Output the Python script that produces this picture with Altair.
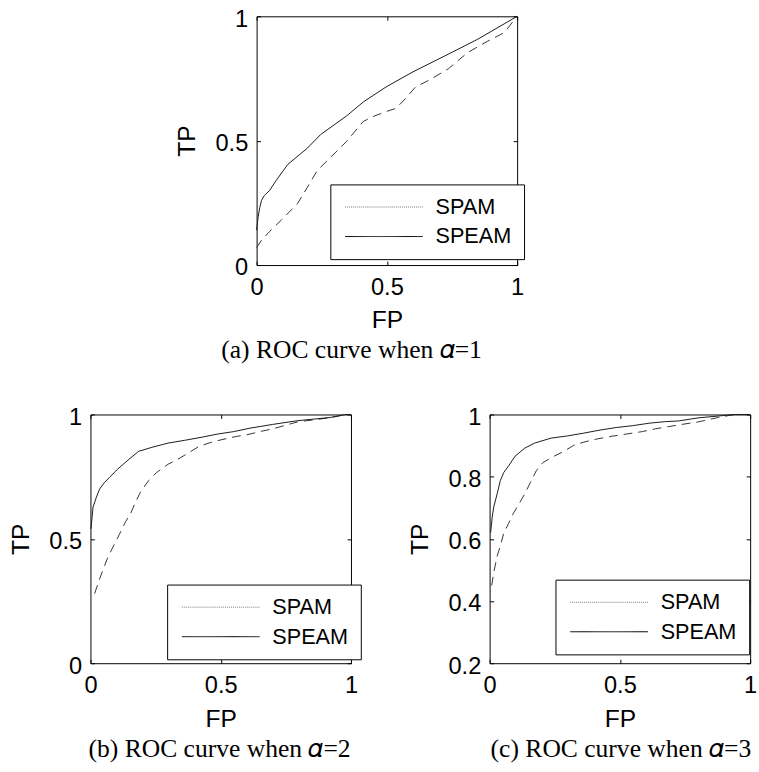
import altair as alt
import pandas as pd

SERIES = ["SPAM", "SPEAM"]

# ---- panel (a): alpha = 1 ----
a_speam_fp = [0.0, 0.003, 0.006, 0.012, 0.019, 0.03, 0.05, 0.075, 0.12, 0.195, 0.245, 0.346, 0.41, 0.497, 0.597, 0.723, 0.849, 1.0]
a_speam_tp = [0.14, 0.17, 0.194, 0.23, 0.26, 0.28, 0.30, 0.34, 0.405, 0.47, 0.524, 0.60, 0.656, 0.716, 0.775, 0.841, 0.908, 1.0]
a_spam_fp = [0.0, 0.019, 0.05, 0.094, 0.157, 0.195, 0.233, 0.283, 0.346, 0.409, 0.447, 0.497, 0.535, 0.572, 0.61, 0.66, 0.736, 0.811, 0.887, 0.95, 1.0]
a_spam_tp = [0.07, 0.10, 0.135, 0.18, 0.247, 0.313, 0.38, 0.432, 0.498, 0.577, 0.597, 0.617, 0.63, 0.67, 0.716, 0.742, 0.789, 0.855, 0.90, 0.934, 1.0]

# ---- panel (b): alpha = 2 ----
b_speam_fp = [0.002, 0.004, 0.01, 0.023, 0.035, 0.054, 0.073, 0.104, 0.148, 0.185, 0.236, 0.298, 0.361, 0.424, 0.486, 0.549, 0.612, 0.699, 0.794, 0.92, 0.98, 1.0]
b_speam_tp = [0.54, 0.563, 0.628, 0.668, 0.70, 0.727, 0.747, 0.78, 0.82, 0.852, 0.868, 0.885, 0.896, 0.908, 0.921, 0.931, 0.945, 0.96, 0.975, 0.988, 1.0, 1.0]
b_spam_fp = [0.016, 0.035, 0.054, 0.066, 0.091, 0.11, 0.135, 0.154, 0.173, 0.192, 0.223, 0.254, 0.298, 0.336, 0.386, 0.417, 0.466, 0.505, 0.561, 0.599, 0.662, 0.699, 0.794, 0.92, 0.98, 1.0]
b_spam_tp = [0.28, 0.339, 0.391, 0.424, 0.477, 0.516, 0.569, 0.602, 0.648, 0.688, 0.734, 0.767, 0.80, 0.82, 0.852, 0.872, 0.889, 0.899, 0.912, 0.918, 0.934, 0.942, 0.97, 0.987, 1.0, 1.0]

# ---- panel (c): alpha = 3 ----
c_speam_fp = [0.004, 0.01, 0.016, 0.029, 0.041, 0.054, 0.073, 0.098, 0.135, 0.173, 0.236, 0.298, 0.361, 0.424, 0.486, 0.549, 0.612, 0.674, 0.724, 0.8, 0.94, 1.0]
c_speam_tp = [0.62, 0.671, 0.703, 0.745, 0.787, 0.813, 0.835, 0.866, 0.892, 0.908, 0.924, 0.931, 0.94, 0.95, 0.958, 0.964, 0.972, 0.977, 0.979, 0.989, 1.0, 1.0]
c_spam_fp = [0.008, 0.016, 0.029, 0.041, 0.054, 0.073, 0.091, 0.11, 0.135, 0.154, 0.179, 0.204, 0.248, 0.286, 0.323, 0.361, 0.411, 0.461, 0.524, 0.586, 0.637, 0.687, 0.737, 0.8, 0.875, 0.94, 1.0]
c_spam_tp = [0.45, 0.492, 0.545, 0.576, 0.618, 0.65, 0.682, 0.708, 0.745, 0.777, 0.819, 0.845, 0.866, 0.882, 0.901, 0.911, 0.921, 0.929, 0.937, 0.945, 0.954, 0.961, 0.968, 0.976, 0.99, 1.0, 1.0]

x_ticks = [0, 0.5, 1]
y_ticks_ab = [0, 0.5, 1]
y_ticks_c = [0.2, 0.4, 0.6, 0.8, 1]

captions = ["(a) ROC curve when  \U0001D6FC=1",
            "(b) ROC curve when  \U0001D6FC=2",
            "(c) ROC curve when  \U0001D6FC=3"]

W, H = 265, 253
SANS = "Liberation Sans"
SERIF = "Liberation Serif"
TICK_FONT = 24
TITLE_FONT = 25


def panel(spam_fp, spam_tp, speam_fp, speam_tp, ydom, yvals, caption, cap_dx, leg_x, leg_y):
    rows = []
    for name, fps, tps in (("SPAM", spam_fp, spam_tp), ("SPEAM", speam_fp, speam_tp)):
        for i, (f, t) in enumerate(zip(fps, tps)):
            rows.append({"fp": f, "tp": t, "series": name, "i": i})
    df = pd.DataFrame(rows)

    common_axis = dict(
        format="~g", ticks=False, tickSize=0, domain=False,
        grid=True, gridColor="black", gridOpacity=1, gridWidth=1,
        labelFont=SANS, labelFontSize=TICK_FONT, labelColor="black", labelFlush=False,
        titleFont=SANS, titleFontSize=TITLE_FONT, titleFontWeight="normal", titleColor="black",
    )
    x = alt.X("fp:Q", scale=alt.Scale(domain=[0, 1], nice=False, zero=False),
              axis=alt.Axis(values=x_ticks, title="FP", gridDash=[4, H - 8],
                            labelPadding=11, titlePadding=9, **common_axis))
    y = alt.Y("tp:Q", scale=alt.Scale(domain=ydom, nice=False, zero=False),
              axis=alt.Axis(values=yvals, title="TP", gridDash=[4, W - 8], labelOffset=3,
                            labelPadding=9, titlePadding=16, **common_axis))

    leg = alt.Legend(title=None, orient="none", legendX=leg_x, legendY=leg_y,
                     symbolType="M-1,0H6.9", symbolSize=400, symbolStrokeWidth=1,
                     symbolOffset=2, labelOffset=71, labelFont=SANS, labelFontSize=22,
                     labelColor="black", labelLimit=0, rowPadding=8, padding=12,
                     strokeColor="black", fillColor="white", cornerRadius=0)

    base = alt.Chart(df)
    spam = base.transform_filter(alt.datum.series == "SPAM").mark_line(
        color="#333333", strokeWidth=1, strokeDash=[9, 6]).encode(x=x, y=y, order="i:Q")
    speam = base.transform_filter(alt.datum.series == "SPEAM").mark_line(
        color="#1a1a1a", strokeWidth=1).encode(x=x, y=y, order="i:Q")
    legend_layer = base.transform_filter("datum.fp > 5").mark_line(strokeWidth=1).encode(
        x=x, y=y,
        stroke=alt.Stroke("series:N", scale=alt.Scale(domain=SERIES, range=["#7a7a7a", "#000000"]), legend=leg),
        strokeDash=alt.StrokeDash("series:N", scale=alt.Scale(domain=SERIES, range=[[1, 1], [1, 0]]), legend=leg),
    )
    return alt.layer(spam, speam, legend_layer).properties(
        width=W, height=H,
        title=alt.Title(caption, orient="bottom", anchor="start", frame="group", dx=cap_dx,
                        font=SERIF, fontSize=26, fontWeight="normal", color="black", offset=5),
    )


top = panel(a_spam_fp, a_spam_tp, a_speam_fp, a_speam_tp, [0, 1], y_ticks_ab, captions[0], -36, 75, 171)
bl = panel(b_spam_fp, b_spam_tp, b_speam_fp, b_speam_tp, [0, 1], y_ticks_ab, captions[1], -2, 78, 173)
br = panel(c_spam_fp, c_spam_tp, c_speam_fp, c_speam_tp, [0.2, 1], y_ticks_c, captions[2], 1, 67, 168)

spacer = alt.Chart(pd.DataFrame({"v": [0]})).mark_point(opacity=0).properties(
    width=84, height=10, view=alt.ViewBackground(stroke="transparent"))

RES = dict(stroke="independent", strokeDash="independent")

top_row = alt.hconcat(spacer, top, spacing=0).resolve_scale(**RES)
bottom_row = alt.hconcat(bl, br, spacing=46).resolve_scale(**RES)

chart = alt.vconcat(top_row, bottom_row, spacing=41).resolve_scale(**RES).properties(
    padding={"left": 8, "top": 0, "right": 0, "bottom": 0},
    background="white",
).configure_view(stroke="black", strokeWidth=1)

chart.save("out.html", embed_options={"renderer": "svg", "actions": False})
